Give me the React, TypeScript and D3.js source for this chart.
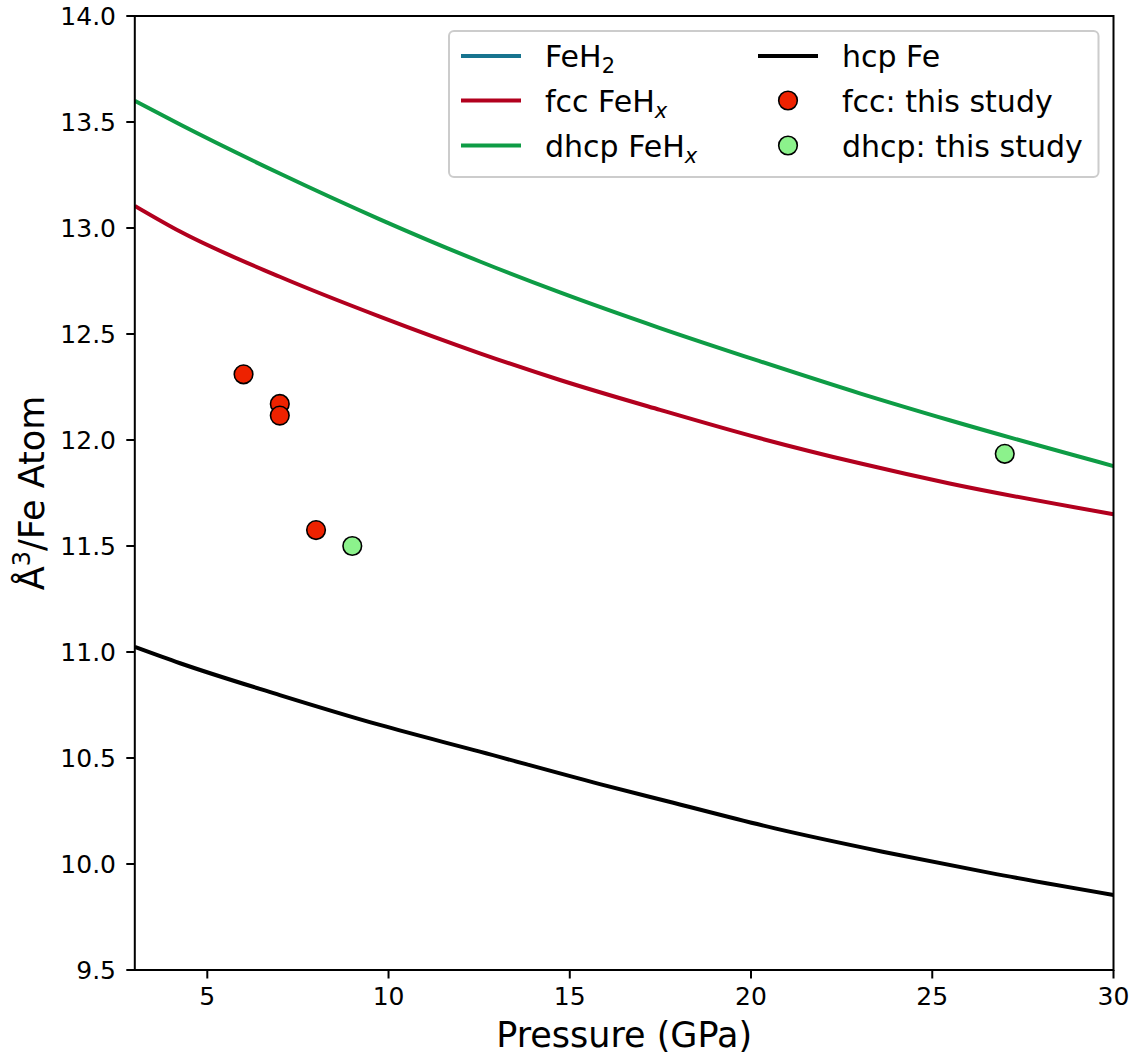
import React from "react";
import * as d3 from "d3";

// Equation-of-state curves: [pressure (GPa), volume (Å³ per Fe atom)]
const dhcpFeHx: [number, number][] = [
  [3, 13.6], [4.25, 13.488], [7, 13.257], [9.76, 13.041], [12.52, 12.842],
  [14.73, 12.696], [17.49, 12.528], [20.25, 12.371], [23, 12.22],
  [25.48, 12.093], [30, 11.877],
];
const fccFeHx: [number, number][] = [
  [3, 13.104], [4.25, 12.983], [7, 12.77], [9.76, 12.582], [12.52, 12.409],
  [14.73, 12.283], [17.49, 12.142], [20.25, 12.008],
  [23, 11.89], [25.48, 11.795], [30, 11.65],
];
const hcpFe: [number, number][] = [
  [3, 11.024], [4.25, 10.947], [7, 10.797], [9.76, 10.656], [12.52, 10.53],
  [15.83, 10.377], [17.69, 10.296], [20.66, 10.168], [23.63, 10.058],
  [26.59, 9.958], [30, 9.854],
];

// Measured volumes
const fccStudy: [number, number][] = [[6, 12.31], [7, 12.17], [7, 12.115], [8, 11.575]];
const dhcpStudy: [number, number][] = [[9, 11.5], [27, 11.935]];

const xTicks = [5, 10, 15, 20, 25, 30];
const yTicks = [9.5, 10, 10.5, 11, 11.5, 12, 12.5, 13, 13.5, 14];

const COLORS = {
  feh2: "#17748f",
  fcc: "#b2001e",
  dhcp: "#0e9c45",
  hcp: "#000000",
  fccPt: "#ee2200",
  dhcpPt: "#8cf28c",
};

const FONT = "'DejaVu Sans', sans-serif";

const W = 1136;
const H = 1057;
const L = 134.8, R = 1113.5, T = 16, B = 970;

export default function App() {
  const x = d3.scaleLinear().domain([3, 30]).range([L, R]);
  const y = d3.scaleLinear().domain([9.5, 14]).range([B, T]);
  const line = d3
    .line<[number, number]>()
    .x((d) => x(d[0]))
    .y((d) => y(d[1]))
    .curve(d3.curveMonotoneX);

  const curves = [
    { data: dhcpFeHx, color: COLORS.dhcp },
    { data: fccFeHx, color: COLORS.fcc },
    { data: hcpFe, color: COLORS.hcp },
  ];

  // legend geometry
  const lx = 449, ly = 31, lw = 649.5, lh = 146;
  const rowsY = [56, 100.5, 145.5];
  const col1 = { h0: 461, h1: 521, t: 545 };
  const col2 = { h0: 758, h1: 818, t: 842 };
  const fs = 30;

  return (
    <svg
      width={W}
      height={H}
      style={{ position: "absolute", left: 0, top: 0, background: "#fff" }}
      fontFamily={FONT}
    >
      <rect x={0} y={0} width={W} height={H} fill="#fff" />
      <defs>
        <clipPath id="plotArea">
          <rect x={L} y={T} width={R - L} height={B - T} />
        </clipPath>
      </defs>

      <g clipPath="url(#plotArea)">
        {curves.map((c, i) => (
          <path key={i} d={line(c.data) || ""} fill="none" stroke={c.color} strokeWidth={4} />
        ))}
        {fccStudy.map((d, i) => (
          <circle key={"f" + i} cx={x(d[0])} cy={y(d[1])} r={9.3} fill={COLORS.fccPt} stroke="#000" strokeWidth={1.6} />
        ))}
        {dhcpStudy.map((d, i) => (
          <circle key={"d" + i} cx={x(d[0])} cy={y(d[1])} r={9.3} fill={COLORS.dhcpPt} stroke="#000" strokeWidth={1.6} />
        ))}
      </g>

      {/* frame */}
      <rect x={L} y={T} width={R - L} height={B - T} fill="none" stroke="#000" strokeWidth={2} />

      {/* x axis */}
      {xTicks.map((t) => (
        <g key={"xt" + t}>
          <line x1={x(t)} x2={x(t)} y1={B} y2={B + 8.5} stroke="#000" strokeWidth={2} />
          <text x={x(t)} y={1005} fontSize={25} textAnchor="middle" fill="#000">
            {t}
          </text>
        </g>
      ))}
      {/* y axis */}
      {yTicks.map((t) => (
        <g key={"yt" + t}>
          <line x1={L - 8.5} x2={L} y1={y(t)} y2={y(t)} stroke="#000" strokeWidth={2} />
          <text x={116} y={y(t) + 9} fontSize={25} textAnchor="end" fill="#000">
            {t.toFixed(1)}
          </text>
        </g>
      ))}

      <text x={(L + R) / 2} y={1047} fontSize={35} textAnchor="middle" fill="#000">
        Pressure (GPa)
      </text>
      <text
        transform={`translate(44, ${(T + B) / 2}) rotate(-90)`}
        fontSize={35}
        textAnchor="middle"
        fill="#000"
      >
        Å<tspan fontSize={24} dy={-14}>3</tspan>
        <tspan dy={14}>/Fe Atom</tspan>
      </text>

      {/* legend */}
      <rect x={lx} y={ly} width={lw} height={lh} rx={5} fill="#fff" fillOpacity={0.8} stroke="#cccccc" strokeWidth={2} />
      <g fontSize={fs} fill="#000">
        <line x1={col1.h0} x2={col1.h1} y1={rowsY[0]} y2={rowsY[0]} stroke={COLORS.feh2} strokeWidth={4} />
        <text x={col1.t} y={rowsY[0] + 11}>
          FeH<tspan fontSize={21} dy={6}>2</tspan>
        </text>
        <line x1={col1.h0} x2={col1.h1} y1={rowsY[1]} y2={rowsY[1]} stroke={COLORS.fcc} strokeWidth={4} />
        <text x={col1.t} y={rowsY[1] + 11}>
          fcc FeH<tspan fontSize={21} dy={6} fontStyle="italic">x</tspan>
        </text>
        <line x1={col1.h0} x2={col1.h1} y1={rowsY[2]} y2={rowsY[2]} stroke={COLORS.dhcp} strokeWidth={4} />
        <text x={col1.t} y={rowsY[2] + 11}>
          dhcp FeH<tspan fontSize={21} dy={6} fontStyle="italic">x</tspan>
        </text>

        <line x1={col2.h0} x2={col2.h1} y1={rowsY[0]} y2={rowsY[0]} stroke={COLORS.hcp} strokeWidth={4} />
        <text x={col2.t} y={rowsY[0] + 11}>hcp Fe</text>
        <circle cx={(col2.h0 + col2.h1) / 2} cy={rowsY[1]} r={9.3} fill={COLORS.fccPt} stroke="#000" strokeWidth={1.6} />
        <text x={col2.t} y={rowsY[1] + 11}>fcc: this study</text>
        <circle cx={(col2.h0 + col2.h1) / 2} cy={rowsY[2]} r={9.3} fill={COLORS.dhcpPt} stroke="#000" strokeWidth={1.6} />
        <text x={col2.t} y={rowsY[2] + 11}>dhcp: this study</text>
      </g>
    </svg>
  );
}
